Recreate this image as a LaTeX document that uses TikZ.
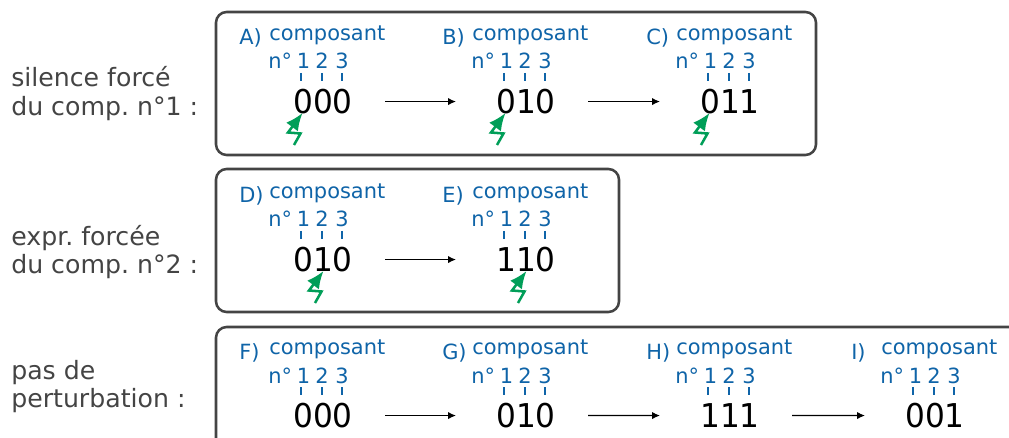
\documentclass[tikz,border=0pt]{standalone}
\usepackage{fontspec}
\setmainfont{DejaVu Sans}
\newfontfamily\digitfont[FakeStretch=0.95]{DejaVu Sans}
\usetikzlibrary{arrows.meta,calc}
\definecolor{bluetxt}{HTML}{0F64A8}
\definecolor{greytxt}{HTML}{444444}
\definecolor{greenzap}{HTML}{009E58}
\frenchspacing
\tikzset{
  frame/.style={draw=greytxt,line width=1.9pt,rounded corners=8pt},
  sidetxt/.style={anchor=base west,text=greytxt,font=\fontsize{18.9}{22}\selectfont\frenchspacing,inner sep=0pt},
  bluelab/.style={anchor=base west,text=bluetxt,font=\fontsize{15.7}{18}\selectfont\frenchspacing,inner sep=0pt},
  bluenum/.style={anchor=base,text=bluetxt,font=\fontsize{15.7}{18}\selectfont,inner sep=0pt},
  digits/.style={anchor=base,text=black,font=\digitfont\fontsize{24.6}{28}\selectfont,inner sep=0pt},
  tick/.style={draw=bluetxt,line width=0.8pt},
  flow/.style={draw=black,line width=0.9pt,-{Latex[length=6pt,width=5.5pt]},shorten <=46.5pt,shorten >=52.5pt},
  zap/.style={draw=greenzap,line width=1.9pt,-{Latex[length=13pt,width=11pt]},line join=miter}
}
% #1 name, #2 x, #3 y (digit line centre), #4 letter label, #5 digits
\newcommand{\stategroup}[5]{
  \node[digits] (#1) at (#2+1,#3+12.5) {#5};
  \node[bluelab] (#1lab) at (#2-83,#3-56) {#4};
  \node[bluelab] (#1comp) at (#2-53,#3-60.5) {composant};
  \node[bluelab] (#1no) at (#2-54,#3-32) {n°};
  \node[bluenum] (#1a) at (#2-18.5,#3-32) {1};
  \node[bluenum] (#1b) at (#2,#3-32) {2};
  \node[bluenum] (#1c) at (#2+20,#3-32) {3};
  \draw[tick] (#2-21,#3-28) -- (#2-21,#3-20);
  \draw[tick] (#2,#3-28) -- (#2,#3-20);
  \draw[tick] (#2+20,#3-28) -- (#2+20,#3-20);
}
% #1 tip x relative point, #2 y
\newcommand{\zapat}[2]{
  \draw[zap] (#1-8,#2+32) -- (#1-1.5,#2+20.5) -- (#1-14,#2+19.5) -- (#1+0.5,#2);
}
\begin{document}
\begin{tikzpicture}[x=0.75pt,y=-0.75pt]
\useasboundingbox (0,0) rectangle (1009,438);
\clip (0,0) rectangle (1009,438);
\draw[frame] (216,12) rectangle (816,155);
\draw[frame] (216,169) rectangle (619,312);
\draw[frame] (216,327) rectangle (1060,480);
\node[sidetxt] (s1) at (11,87) {silence forcé};
\node[sidetxt] (s2) at (11,116) {du comp. n°1 :};
\node[sidetxt] (s3) at (11,245) {expr. forcée};
\node[sidetxt] (s4) at (11,273) {du comp. n°2 :};
\node[sidetxt] (s5) at (11,379) {pas de};
\node[sidetxt] (s6) at (11,407) {perturbation :};
\stategroup{A}{322}{101}{A)}{000}
\stategroup{B}{525}{101}{B)}{010}
\stategroup{C}{729}{101}{C)}{011}
\stategroup{D}{322}{259}{D)}{010}
\stategroup{E}{525}{259}{E)}{110}
\stategroup{F}{322}{415}{F)}{000}
\stategroup{G}{525}{415}{G)}{010}
\stategroup{H}{729}{415}{H)}{111}
\stategroup{I}{934}{415}{I)}{001}
\draw[flow] (A.center) -- (B.center);
\draw[flow] (B.center) -- (C.center);
\draw[flow] (D.center) -- (E.center);
\draw[flow] (F.center) -- (G.center);
\draw[flow] (G.center) -- (H.center);
\draw[flow] (H.center) -- (I.center);
\zapat{302}{113}
\zapat{505}{113}
\zapat{709}{113}
\zapat{323}{271}
\zapat{526}{271}
\end{tikzpicture}
\end{document}
